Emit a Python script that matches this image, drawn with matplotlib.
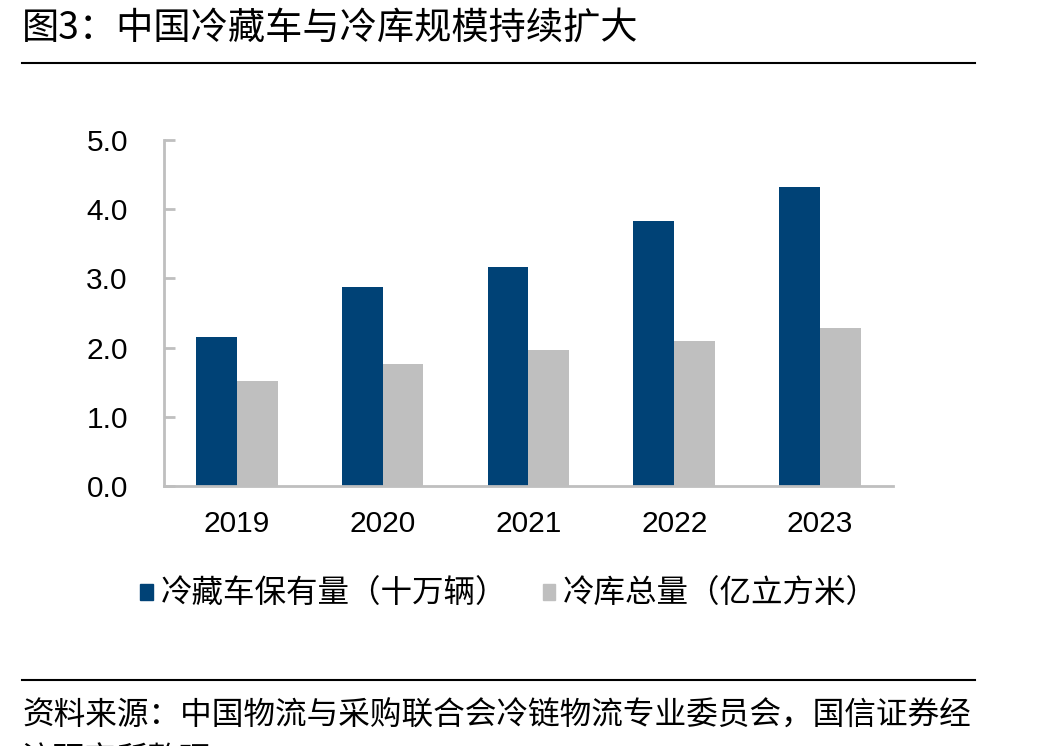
import matplotlib.pyplot as plt
from matplotlib.patches import Patch
import numpy as np

years = ["2019", "2020", "2021", "2022", "2023"]
trucks = [2.15, 2.87, 3.16, 3.83, 4.32]      # 冷藏车保有量（十万辆）
storage = [1.52, 1.77, 1.96, 2.10, 2.29]     # 冷库总量（亿立方米）
series_names = ["冷藏车保有量（十万辆）", "冷库总量（亿立方米）"]
yticks = [0.0, 1.0, 2.0, 3.0, 4.0, 5.0]

title = "图3：中国冷藏车与冷库规模持续扩大"
source_lines = ["资料来源：中国物流与采购联合会冷链物流专业委员会，国信证券经",
                "济研究所整理"]

BLUE = "#004276"
GRAY = "#bfbfbf"
CJK = ["Noto Sans CJK SC", "DejaVu Sans"]
LATIN = ["Liberation Sans", "Noto Sans CJK SC"]

plt.rcParams["font.family"] = CJK

fig = plt.figure(figsize=(10.47, 7.46), dpi=100)
ax = fig.add_axes([0.1566, 0.3485, 0.6963, 0.4638])

x = np.arange(len(years))
w = 0.28
ax.bar(x - w / 2, trucks, width=w, color=BLUE)
ax.bar(x + w / 2, storage, width=w, color=GRAY)

ax.set_xlim(-0.5, len(years) - 0.5)
ax.set_ylim(0, 5)
ax.set_yticks(yticks)
ax.set_yticklabels([f"{v:.1f}" for v in yticks], family=LATIN, fontsize=21.5)
ax.set_xticks(x)
ax.set_xticklabels(years, family=LATIN, fontsize=21.5)
ax.tick_params(axis="y", direction="in", length=8, width=2, color=GRAY, pad=26)
ax.tick_params(axis="x", length=0, pad=17)
for s in ["top", "right"]:
    ax.spines[s].set_visible(False)
for s in ["left", "bottom"]:
    ax.spines[s].set_color(GRAY)
    ax.spines[s].set_linewidth(2)

handles = [Patch(color=BLUE), Patch(color=GRAY)]
fig.legend(handles, series_names, loc="center left", bbox_to_anchor=(0.134, 0.204),
           ncol=2, frameon=False, fontsize=22.7, handlelength=0.4, handleheight=0.4,
           handletextpad=0.25, columnspacing=1.12, borderaxespad=0, borderpad=0)

# title and rules
fig.text(22 / 1047, 1 - 28 / 746, title, fontsize=26.8, va="center", ha="left")
fig.add_artist(plt.Line2D([22 / 1047, 975 / 1047], [1 - 63 / 746] * 2,
                          color="black", lw=1.5))
fig.add_artist(plt.Line2D([22 / 1047, 975 / 1047], [1 - 680 / 746] * 2,
                          color="black", lw=1.5))
fig.text(22 / 1047, 1 - 716 / 746, source_lines[0], fontsize=22.8, va="center", ha="left")
fig.text(22 / 1047, 1 - 760 / 746, source_lines[1], fontsize=22.8, va="center", ha="left")

fig.savefig("out.png", dpi=100)
